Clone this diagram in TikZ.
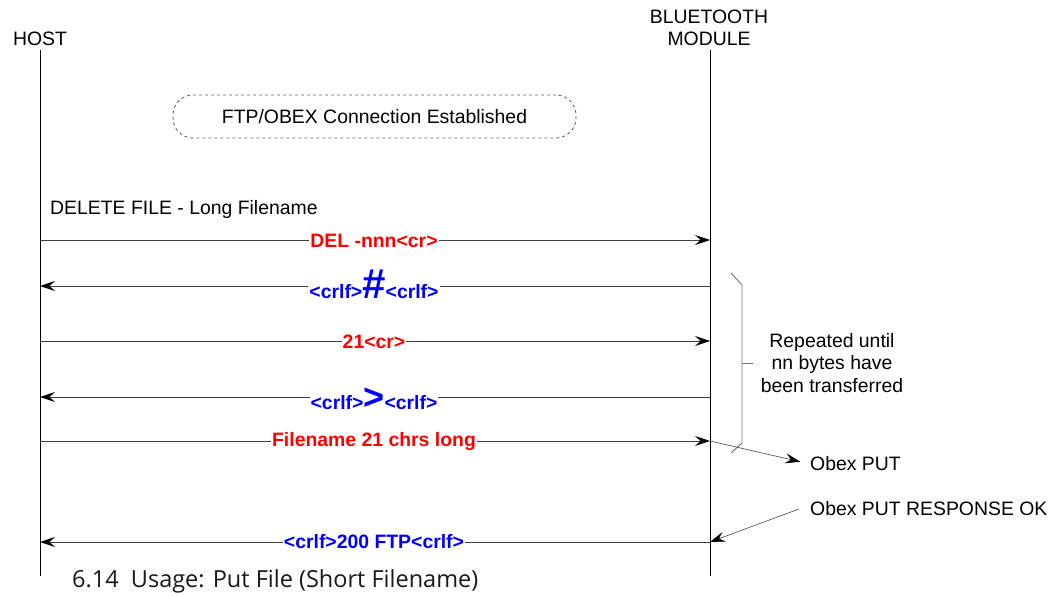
\documentclass[tikz,border=0pt]{standalone}
\usepackage{fontspec}
\setmainfont{Liberation Sans}
\newfontfamily\capfont{Open Sans}
\usetikzlibrary{arrows.meta,positioning}
\newcommand{\bigchar}[2][36]{{\fontsize{#1}{#1}\selectfont #2}}

\begin{document}
\begin{tikzpicture}[x=1pt,y=-1pt,
  actor/.style={font=\fontsize{19.4}{22}\selectfont,align=center,inner sep=0pt},
  life/.style={draw=black,line width=0.9pt},
  msg/.style={draw=black!75,line width=0.9pt,
    -{Stealth[length=15pt,width=10pt,inset=5.5pt,black]}},
  txlbl/.style={font=\fontsize{19.4}{22}\selectfont\bfseries,text=red,
    fill=white,inner sep=1pt},
  rxlbl/.style={font=\fontsize{19.4}{22}\selectfont\bfseries,text=blue,
    fill=white,inner sep=1pt,anchor=base},
  note/.style={font=\fontsize{19.4}{22.5}\selectfont,align=center,inner sep=0pt},
  brace/.style={draw=black!55,line width=0.9pt}]
 \useasboundingbox (0,0) rectangle (1059,596);

 % actors and lifelines
 \node[actor] (host) at (40,39) {HOST};
 \node[actor] (bt) at (709,28) {BLUETOOTH\\MODULE};
 \coordinate (hostTop) at (40,50);
 \coordinate (hostEnd) at (40,576);
 \coordinate (btTop) at (710,50);
 \coordinate (btEnd) at (710,576);
 \draw[life] (hostTop) -- (hostEnd);
 \draw[life] (btTop) -- (btEnd);

 \node[draw=black!60,dashed,line width=0.9pt,rounded corners=20pt,
   minimum width=403pt,minimum height=43pt,
   font=\fontsize{19.4}{22}\selectfont] (conn) at (374.5,116.5)
   {FTP/OBEX Connection Established};

 \node[actor,anchor=base west] (del) at (50,214) {DELETE FILE - Long Filename};

 % message end points
 \foreach \n/\y in {1/240,2/286,3/341,4/397,5/441,6/542}{
   \coordinate (h\n) at (40,\y);
   \coordinate (b\n) at (710,\y);
 }

 \draw[msg] (h1) -- (b1);
 \node[txlbl] (m1) at (374,241) {DEL -nnn<cr>};
 \draw[msg] (b2) -- (h2);
 \node[rxlbl] (m2) at (374,298) {<crlf>\bigchar[42]{\#}<crlf>};
 \draw[msg] (h3) -- (b3);
 \node[txlbl] (m3) at (374,342) {21<cr>};
 \draw[msg] (b4) -- (h4);
 \node[rxlbl] (m4) at (374,409) {<crlf>\bigchar{>}<crlf>};
 \draw[msg] (h5) -- (b5);
 \node[txlbl] (m5) at (374,442) {Filename 21 chrs long};
 \draw[msg] (b6) -- (h6);
 \node[rxlbl] (m6) at (374,548) {<crlf>200 FTP<crlf>};

 % repeated block
 \coordinate (brTop) at (731,273);
 \coordinate (brBot) at (731,453);
 \draw[brace] (brTop) -- (742,285) -- (742,443) -- (brBot);
 \draw[brace] (742,363) -- (753,363);
 \node[note] (rep) at (832,363) {Repeated until\\nn bytes have\\been transferred};

 % obex side notes
 \node[actor,anchor=west] (put) at (810,464) {Obex PUT};
 \node[actor,anchor=west] (resp) at (810,509) {Obex PUT RESPONSE OK};
 \draw[msg,draw=black!65,line width=0.7pt,shorten >=10pt] (b5) -- (put.west);
 \draw[msg,draw=black!65,line width=0.7pt] ([xshift=-11pt]resp.west) -- (b6);

 \node[anchor=base west,inner sep=0pt,font=\capfont\fontsize{23.5}{26}\selectfont,
   text=black!90] (cap) at (72,587) {6.14\ \ Usage: Put File (Short Filename)};
\end{tikzpicture}
\end{document}
